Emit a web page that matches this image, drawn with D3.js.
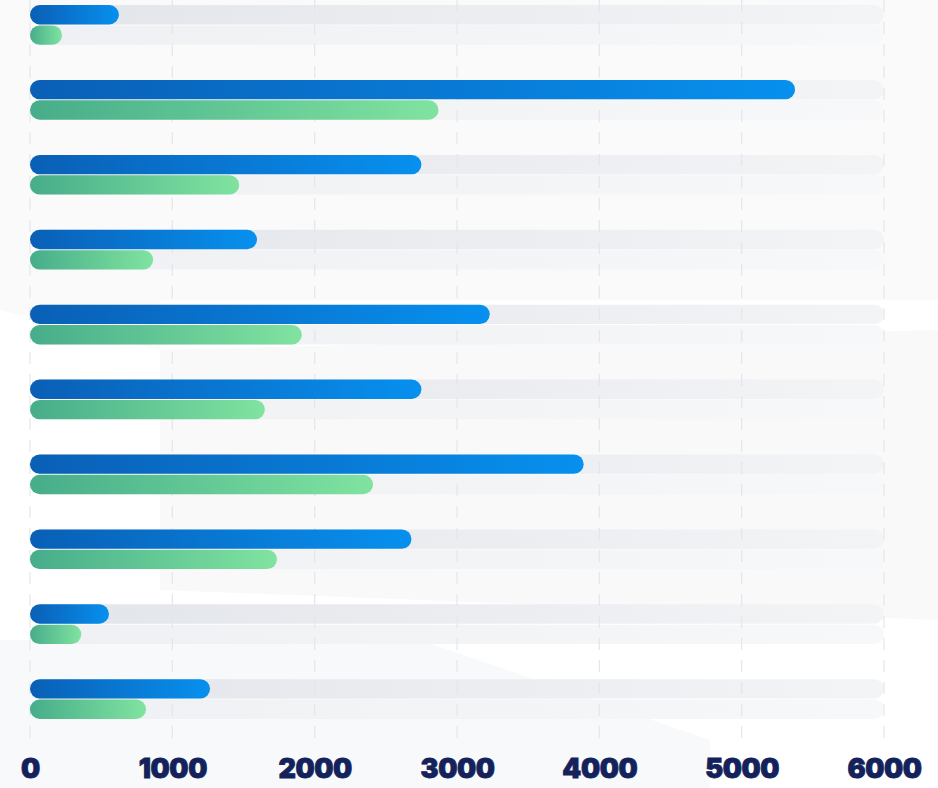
<!DOCTYPE html>
<html>
<head>
<meta charset="utf-8">
<script src="https://cdn.jsdelivr.net/npm/d3@7"></script>
<style>
  html, body { margin: 0; padding: 0; background: #fff; }
  svg { display: block; }
  .tick text { font-family: Inter, "Open Sans", sans-serif; font-weight: 900; }
</style>
</head>
<body>
<svg width="938" height="788"></svg>
<script>
// data
var categories = ["A", "B", "C", "D", "E", "F", "G", "H", "I", "J"];
var seriesNames = ["blue", "green"];
var blueValues = [625, 5375, 2750, 1595, 3230, 2750, 3890, 2680, 555, 1265];
var greenValues = [225, 2870, 1470, 865, 1910, 1650, 2410, 1735, 360, 815];
var tickValues = [0, 1000, 2000, 3000, 4000, 5000, 6000];

var svg = d3.select("svg"),
    width = +svg.attr("width"),
    height = +svg.attr("height");

var defs = svg.append("defs");

function grad(id, from, to) {
    var lg = defs.append("linearGradient").attr("id", id)
        .attr("x1", "0%").attr("x2", "100%").attr("y1", "0%").attr("y2", "0%");
    lg.append("stop").attr("offset", "0%").attr("stop-color", from);
    lg.append("stop").attr("offset", "100%").attr("stop-color", to);
}
grad("gBlue", "#0a5fb6", "#0790ee");
grad("gGreen", "#47ad8a", "#80e3a0");
grad("gTrackBlue", "#e2e5ea", "#f3f4f6");
grad("gTrackGreen", "#eef0f3", "#f7f8f9");

// faint background shapes
var bg = svg.append("g");
bg.append("path")
    .attr("d", "M0,0 L938,0 L938,300 L160,300 L160,350 L0,310 Z")
    .attr("fill", "#fafafb");
bg.append("path")
    .attr("d", "M160,350 L938,330 L938,620 L160,590 Z")
    .attr("fill", "#f9f9fa");
bg.append("path")
    .attr("d", "M0,640 L420,640 L710,740 L710,788 L0,788 Z")
    .attr("fill", "#f8f9fa");

var x = d3.scaleLinear().domain([0, 6000]).range([30, 884]);

var y = d3.scaleBand()
    .domain(categories)
    .range([-12.5, 736.5])
    .paddingInner(0.47)
    .paddingOuter(0.235);

var sub = d3.scaleBand()
    .domain(seriesNames)
    .range([0, y.bandwidth()])
    .paddingInner(0.05);

var rows = categories.map(function(c, i) {
    return { cat: c, blue: blueValues[i], green: greenValues[i] };
});

var bh = sub.bandwidth(), r = bh / 2;

var trackLayer = svg.append("g");
var gridLayer = svg.append("g");
var barLayer = svg.append("g");

function rowsIn(layer) {
    return layer.selectAll(".row")
        .data(rows)
        .enter().append("g")
        .attr("class", "row")
        .attr("transform", function(d) { return "translate(0," + y(d.cat) + ")"; });
}

// tracks
var tr = rowsIn(trackLayer);
tr.append("rect")
    .attr("x", x(0)).attr("y", sub("blue"))
    .attr("width", x(6000) - x(0)).attr("height", bh)
    .attr("rx", r).attr("fill", "url(#gTrackBlue)");
tr.append("rect")
    .attr("x", x(0)).attr("y", sub("green"))
    .attr("width", x(6000) - x(0)).attr("height", bh)
    .attr("rx", r).attr("fill", "url(#gTrackGreen)");

// dashed grid
gridLayer.selectAll("line")
    .data(tickValues)
    .enter().append("line")
    .attr("x1", function(d) { return x(d); })
    .attr("x2", function(d) { return x(d); })
    .attr("y1", 0).attr("y2", 742)
    .attr("stroke", "#e4e6ea")
    .attr("stroke-width", 1.2)
    .attr("stroke-dasharray", "12,10");

// bars
var br = rowsIn(barLayer);
br.append("rect")
    .attr("x", x(0)).attr("y", sub("blue"))
    .attr("width", function(d) { return x(d.blue) - x(0); })
    .attr("height", bh).attr("rx", r)
    .attr("fill", "url(#gBlue)");
br.append("rect")
    .attr("x", x(0)).attr("y", sub("green"))
    .attr("width", function(d) { return x(d.green) - x(0); })
    .attr("height", bh).attr("rx", r)
    .attr("fill", "url(#gGreen)");

// axis
var axis = svg.append("g")
    .attr("transform", "translate(0,750)")
    .call(d3.axisBottom(x).tickValues(tickValues).tickFormat(d3.format("d")).tickSize(0).tickPadding(10));
axis.select(".domain").remove();
axis.selectAll("text")
    .attr("fill", "#13225a")
    .attr("stroke", "#13225a")
    .attr("stroke-width", 0.8)
    .attr("font-size", 27)
    .attr("dy", "0.68em")
    .attr("letter-spacing", "-0.4");
</script>
</body>
</html>
